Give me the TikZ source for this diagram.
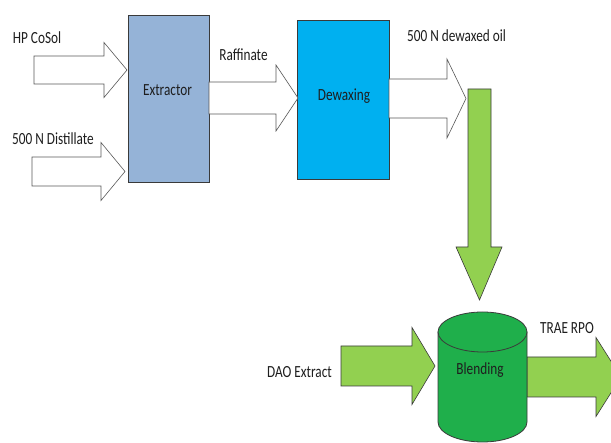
\documentclass[tikz,border=0pt]{standalone}
\usepackage{fontspec}
\setmainfont{Carlito}[FakeStretch=0.78]
\definecolor{extblue}{HTML}{95B3D7}
\definecolor{dewblue}{HTML}{00B0F0}
\definecolor{lgreen}{HTML}{92D050}
\definecolor{dgreen}{HTML}{1FAF4B}
\definecolor{edge}{HTML}{3A3A3A}
\definecolor{txt}{HTML}{1E1E1E}
\newcommand\harrow[7]{%
  \draw[#7] (#1,{#4-#5}) -- (#2,{#4-#5}) -- (#2,{#4-#6}) -- (#3,#4) -- (#2,{#4+#6}) -- (#2,{#4+#5}) -- (#1,{#4+#5}) -- cycle;}
\begin{document}
\begin{tikzpicture}[x=1pt,y=-1pt,
  lbl/.style={font=\fontsize{17}{19}\selectfont, text=txt, inner sep=0pt},
  whitearrow/.style={draw=edge!85, line width=0.6pt, fill=white},
  greenarrow/.style={draw=edge, line width=0.6pt, fill=lgreen},
  boxstyle/.style={draw=edge, line width=0.8pt, inner sep=0pt}]
\useasboundingbox (0,0) rectangle (611,443);
\clip (0,0) rectangle (611,443);
\fill[white] (0,0) rectangle (611,443);
% boxes
\node[boxstyle, fill=extblue, minimum width=81pt, minimum height=167pt] (ext) at (168.5,98.5) {};
\node[boxstyle, fill=dewblue, minimum width=92pt, minimum height=159pt] (dew) at (343,99.5) {};
\node[lbl] (extlbl) at (167.5,90) {Extractor};
\node[lbl] (dewlbl) at (344,96) {Dewaxing};
% white arrows
\harrow{34}{104}{127}{70}{14}{27.5}{whitearrow}
\harrow{32}{101}{125}{171.5}{14.5}{29}{whitearrow}
\harrow{209}{276}{298}{98}{16}{33}{whitearrow}
\harrow{389}{447}{466}{98.5}{19.5}{39.5}{whitearrow}
% vertical green arrow
\draw[greenarrow] (468,89) -- (491,89) -- (491,247) -- (502,247) -- (479.5,300) -- (456,247) -- (468,247) -- cycle;
% green side arrows
\harrow{341}{412}{435}{366}{20}{38.5}{greenarrow}
\harrow{527}{596}{621}{377}{20}{39.5}{greenarrow}
% cylinder
\draw[draw=edge, line width=0.8pt, fill=dgreen] (438,332) -- (438,422) arc[start angle=180, end angle=0, x radius=44.5, y radius=20] -- (527,332) -- cycle;
\draw[draw=edge, line width=0.8pt, fill=dgreen] (482.5,332) ellipse[x radius=44.5, y radius=20];
\node[lbl] (blendlbl) at (480,370) {Blending};
% labels
\node[lbl] (l1) at (37,38) {HP CoSol};
\node[lbl] (l2) at (53,139) {500 N Distillate};
\node[lbl] (l3) at (243.5,55) {Raffinate};
\node[lbl] (l4) at (456.5,36) {500 N dewaxed oil};
\node[lbl] (l5) at (299.5,372) {DAO Extract};
\node[lbl] (l6) at (567,328) {TRAE RPO};
\end{tikzpicture}
\end{document}
